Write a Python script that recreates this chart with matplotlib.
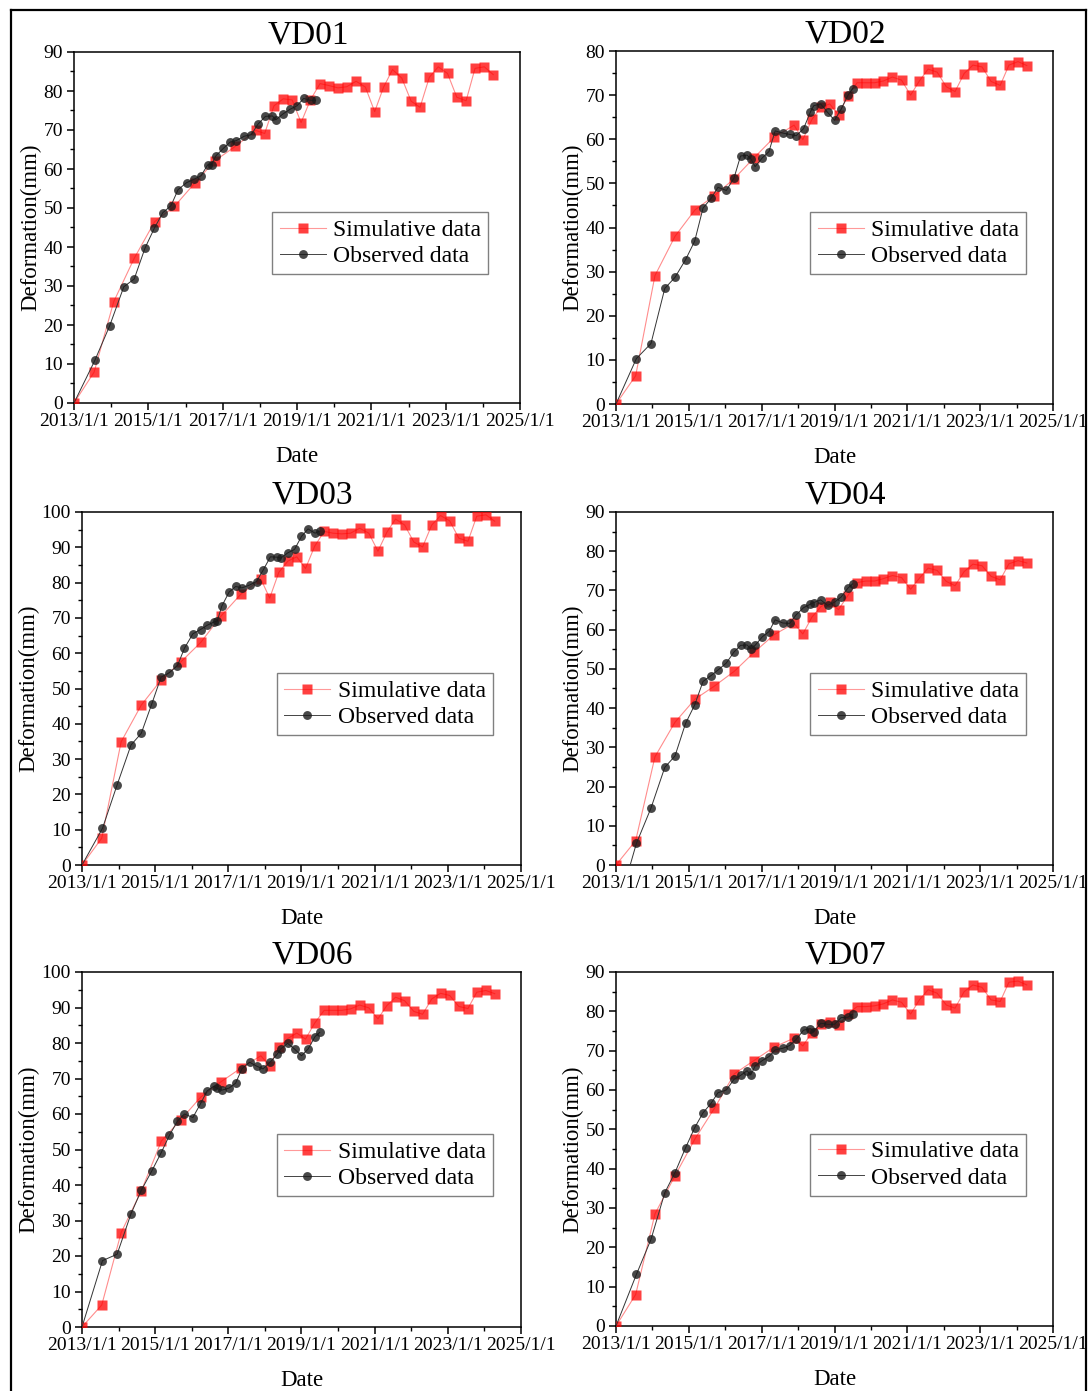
import matplotlib
matplotlib.use('Agg')
import matplotlib.pyplot as plt
from matplotlib.lines import Line2D
from matplotlib.ticker import MultipleLocator, FixedLocator

plt.rcParams['font.family'] = ['Liberation Serif', 'DejaVu Serif']
plt.rcParams['mathtext.fontset'] = 'stix'

# ------------------------
# data (dates as decimal years)
# ------------------------
names = ['VD01', 'VD02', 'VD03', 'VD04', 'VD06', 'VD07']
ymax = [90, 80, 100, 90, 100, 90]

sim_t = [2013.00, 2013.54, 2014.07, 2014.62, 2015.17, 2015.70, 2016.25, 2016.79,
         2017.34, 2017.89, 2018.13, 2018.38, 2018.63, 2018.87, 2019.11, 2019.36,
         2019.62, 2019.86, 2020.10, 2020.34, 2020.59, 2020.84, 2021.09, 2021.33,
         2021.57, 2021.82, 2022.07, 2022.31, 2022.56, 2022.80, 2023.05, 2023.30,
         2023.55, 2023.79, 2024.04, 2024.28]

obs_t = [2013.56, 2013.96, 2014.34, 2014.62, 2014.91, 2015.16, 2015.39, 2015.61,
         2015.80, 2016.03, 2016.24, 2016.42, 2016.60, 2016.70, 2016.82, 2017.02,
         2017.20, 2017.37, 2017.58, 2017.77, 2017.95, 2018.15, 2018.34, 2018.43,
         2018.62, 2018.81, 2019.00, 2019.18, 2019.37, 2019.50]

# start of the observed line (value 0)
obs_start = [2013.00, 2013.00, 2013.00, 2013.39, 2013.00, 2013.00]

sim_vd01 = [0, 7.9, 26.0, 37.1, 46.5, 50.4, 56.4, 62.1, 65.8, 69.9, 69.1, 76.2,
            78.0, 77.7, 71.9, 77.7, 81.9, 81.4, 80.8, 81.1, 82.5, 81.0, 74.7, 81.0,
            85.5, 83.3, 77.4, 75.8, 83.5, 86.2, 84.5, 78.4, 77.5, 85.8, 86.2, 84.2]
obs_vd01 = [10.9, 19.8, 29.8, 31.8, 39.7, 44.8, 48.8, 50.6, 54.7, 56.5, 57.4, 58.3,
            61.1, 61.1, 63.4, 65.3, 66.9, 67.3, 68.4, 68.8, 71.5, 73.5, 73.6, 72.6,
            74.1, 75.3, 76.2, 78.1, 77.6, 77.6]

sim_vd02 = [0, 6.4, 29.1, 38.0, 44.0, 47.2, 51.1, 55.8, 60.4, 63.2, 59.9, 64.5,
            67.3, 68.0, 65.5, 69.7, 72.8, 72.8, 72.8, 73.2, 74.1, 73.4, 70.0, 73.2,
            75.9, 75.2, 71.9, 70.8, 74.9, 76.8, 76.4, 73.1, 72.2, 76.8, 77.6, 76.7]
obs_vd02 = [10.3, 13.7, 26.2, 28.7, 32.7, 36.9, 44.4, 46.6, 49.1, 48.4, 51.2, 56.2,
            56.4, 55.6, 53.8, 55.8, 57.2, 61.9, 61.4, 61.1, 60.8, 62.4, 66.2, 67.6,
            68.0, 66.1, 64.3, 66.8, 70.0, 71.5]

sim_vd03 = [0, 7.6, 34.9, 45.3, 52.5, 57.5, 63.1, 70.4, 76.7, 81.0, 75.6, 82.9,
            86.1, 87.3, 84.0, 90.3, 94.5, 94.0, 93.8, 94.0, 95.4, 94.0, 88.9, 94.2,
            98.0, 96.3, 91.5, 90.1, 96.3, 99.0, 97.5, 92.6, 91.7, 98.8, 99.2, 97.4]
obs_vd03 = [10.4, 22.7, 34.0, 37.3, 45.7, 53.2, 54.5, 56.5, 61.4, 65.5, 66.7, 67.9,
            68.8, 69.2, 73.3, 77.3, 78.9, 78.5, 79.3, 80.3, 83.5, 87.3, 87.2, 86.9,
            88.4, 89.4, 93.1, 95.2, 94.0, 94.6]

sim_vd04 = [0, 6.2, 27.6, 36.4, 42.3, 45.6, 49.4, 54.2, 58.7, 61.6, 58.9, 63.2,
            65.9, 67.0, 65.1, 68.6, 72.0, 72.4, 72.4, 73.0, 73.8, 73.3, 70.3, 73.1,
            75.7, 75.1, 72.3, 71.2, 74.8, 76.7, 76.3, 73.6, 72.7, 76.8, 77.6, 77.0]
obs_vd04 = [5.5, 14.5, 24.9, 27.8, 36.1, 40.8, 46.8, 48.3, 49.7, 51.5, 54.3, 56.0,
            56.1, 55.1, 56.0, 58.2, 59.5, 62.5, 61.7, 61.6, 63.8, 65.6, 66.5, 66.9,
            67.6, 66.2, 67.0, 68.3, 70.6, 71.7]

sim_vd06 = [0, 6.2, 26.6, 38.3, 52.4, 58.4, 64.8, 69.0, 72.9, 76.4, 73.5, 78.8,
            81.3, 82.8, 81.1, 85.6, 89.2, 89.2, 89.2, 89.6, 90.7, 89.9, 86.8, 90.5,
            92.9, 91.9, 88.9, 88.1, 92.4, 94.0, 93.4, 90.3, 89.7, 94.3, 94.8, 93.9]
obs_vd06 = [18.7, 20.5, 31.9, 38.5, 44.0, 49.0, 54.0, 58.0, 60.0, 59.0, 62.9, 66.5,
            67.8, 67.2, 66.7, 67.3, 68.7, 72.7, 74.6, 73.5, 72.7, 74.7, 76.9, 78.3,
            79.9, 78.3, 76.4, 78.3, 81.8, 83.0]

sim_vd07 = [0, 8.0, 28.5, 38.2, 47.6, 55.3, 64.1, 67.5, 70.9, 73.2, 71.2, 74.6,
            76.8, 77.4, 76.4, 79.3, 81.2, 81.2, 81.4, 81.9, 82.9, 82.3, 79.3, 82.9,
            85.5, 84.6, 81.6, 80.8, 85.0, 86.7, 86.1, 82.9, 82.5, 87.4, 87.7, 86.7]
obs_vd07 = [13.1, 22.0, 33.9, 39.0, 45.3, 50.4, 54.2, 56.6, 59.3, 60.0, 62.7, 63.7,
            64.9, 63.8, 66.1, 67.5, 68.5, 70.2, 70.6, 71.3, 72.9, 75.2, 75.6, 74.8,
            77.0, 76.7, 76.7, 78.4, 78.5, 79.3]

sim_all = [sim_vd01, sim_vd02, sim_vd03, sim_vd04, sim_vd06, sim_vd07]
obs_all = [obs_vd01, obs_vd02, obs_vd03, obs_vd04, obs_vd06, obs_vd07]

year_ticks = [2013, 2015, 2017, 2019, 2021, 2023, 2025]
year_labels = ['%d/1/1' % y for y in year_ticks]

# ------------------------
# layout (pixels -> figure fraction)
# ------------------------
W, H = 1088, 1391
boxes = [(74, 52, 520, 403), (616, 51, 1053, 404),
         (82, 512, 521, 865), (616, 512, 1053, 865),
         (82, 972, 521, 1327), (616, 972, 1053, 1326)]

fig = plt.figure(figsize=(W / 100, H / 100), dpi=100)

for i in range(6):
    x0, y0, x1, y1 = boxes[i]
    ax = fig.add_axes([x0 / W, 1 - y1 / H, (x1 - x0) / W, (y1 - y0) / H])

    ax.plot(sim_t, sim_all[i], color='red', lw=0.8, alpha=0.45, zorder=2)
    ax.plot(sim_t, sim_all[i], ls='none', marker='s', ms=6.6, color='red',
            mec='none', alpha=0.75, zorder=3)
    ot = [obs_start[i]] + obs_t
    ov = [0] + obs_all[i]
    ax.plot(ot, ov, color='#333333', lw=0.7, zorder=4)
    ax.plot(obs_t, obs_all[i], ls='none', marker='o', ms=6.4, color='#1a1a1a',
            mec='none', alpha=0.8, zorder=5)

    ax.set_xlim(2013, 2025)
    ax.set_ylim(0, ymax[i])
    ax.xaxis.set_major_locator(FixedLocator(year_ticks))
    ax.set_xticklabels(year_labels)
    ax.xaxis.set_minor_locator(MultipleLocator(1))
    ax.yaxis.set_major_locator(MultipleLocator(10))
    ax.yaxis.set_minor_locator(MultipleLocator(5))
    ax.tick_params(which='major', direction='out', length=5, width=1.1,
                   labelsize=14, pad=2)
    ax.tick_params(axis='y', which='major', pad=3)
    ax.tick_params(which='minor', direction='out', length=3, width=1.0)
    for s in ax.spines.values():
        s.set_linewidth(1.1)

    ax.set_xlabel('Date', fontsize=16.5, labelpad=12)
    ax.set_ylabel('Deformation(mm)', fontsize=16.5, labelpad=1.5)
    ax.set_title(names[i], fontsize=24, x=0.5 + 11 / (x1 - x0), pad=6)

    h1 = Line2D([], [], color=(1, 0, 0, 0.4), lw=0.8, marker='s', ms=6.6,
                mfc=(1, 0, 0, 0.75), mec='none')
    h2 = Line2D([], [], color='#444444', lw=0.7, marker='o', ms=6.4,
                mfc=(0.1, 0.1, 0.1, 0.8), mec='none')
    leg = ax.legend([h1, h2], ['Simulative data', 'Observed data'],
                    loc='upper left', bbox_to_anchor=(0.445, 0.543),
                    borderaxespad=0, fontsize=17, frameon=True, fancybox=False,
                    framealpha=1, edgecolor='#808080', handlelength=1.95,
                    handletextpad=0.3, labelspacing=0.2, borderpad=0.3)
    leg.get_frame().set_linewidth(1.0)

# outer frame (open at the bottom)
fx0, fy0, fx1 = 10.5 / W, 1 - 9.5 / H, 1086 / W
fig.add_artist(Line2D([fx0, fx0], [0, fy0], color='black', lw=1.6,
                      transform=fig.transFigure))
fig.add_artist(Line2D([fx0, fx1], [fy0, fy0], color='black', lw=1.6,
                      transform=fig.transFigure))
fig.add_artist(Line2D([fx1, fx1], [0, fy0], color='black', lw=1.6,
                      transform=fig.transFigure))

fig.savefig('out.png', dpi=100)
